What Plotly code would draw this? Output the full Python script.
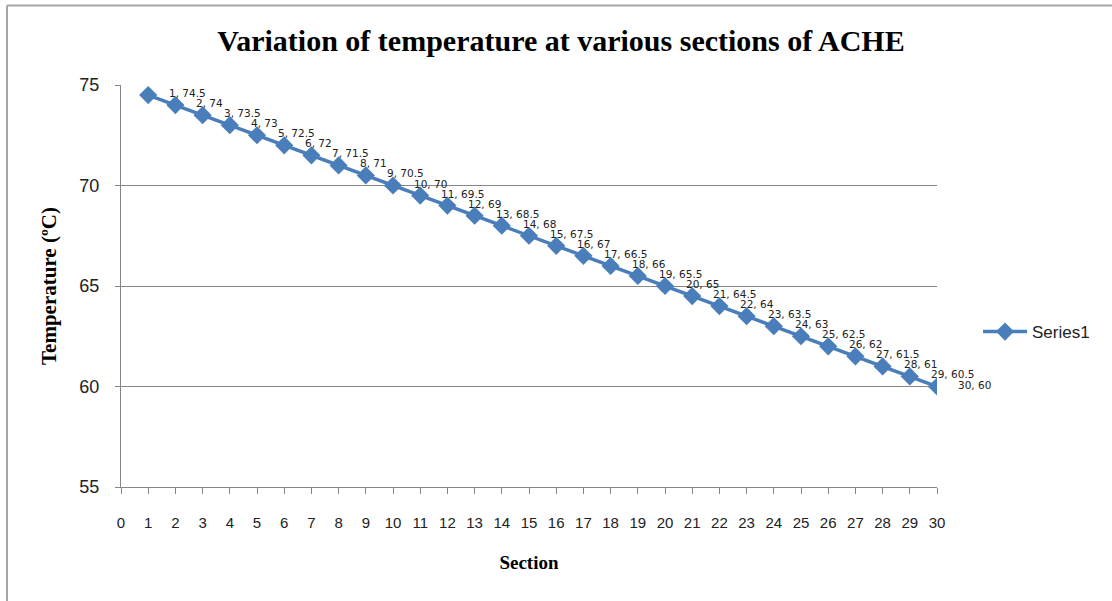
import plotly.graph_objects as go

sections = [1, 2, 3, 4, 5, 6, 7, 8, 9, 10, 11, 12, 13, 14, 15,
            16, 17, 18, 19, 20, 21, 22, 23, 24, 25, 26, 27, 28, 29, 30]
temperature = [74.5, 74, 73.5, 73, 72.5, 72, 71.5, 71, 70.5, 70,
               69.5, 69, 68.5, 68, 67.5, 67, 66.5, 66, 65.5, 65,
               64.5, 64, 63.5, 63, 62.5, 62, 61.5, 61, 60.5, 60]
x_ticks = list(range(0, 31))
y_ticks = [55, 60, 65, 70, 75]

W, H = 1112, 601
L, R, T, B = 121, 937, 85, 487

blue = "#4A7EBB"
grid = "#868686"

fig = go.Figure()
fig.add_trace(go.Scatter(
    x=sections, y=temperature, mode="lines+markers", name="Series1",
    line=dict(color=blue, width=3.5),
    marker=dict(symbol="diamond", size=14, color=blue),
))

annotations = []
for s, t in zip(sections, temperature):
    annotations.append(dict(
        x=s, y=t, xref="x", yref="y", text=f"{s}, {t:g}",
        showarrow=False, xanchor="left", yanchor="middle",
        xshift=19, yshift=2,
        font=dict(family="DejaVu Sans", size=10.5, color="#222222"),
    ))

pw, ph = R - L, B - T
def px2x(px):
    return (px - L) / pw
def py2y(py):
    return (B - py) / ph

shapes = [
    dict(type="line", xref="paper", yref="paper",
         x0=px2x(7), x1=px2x(7), y0=py2y(5.5), y1=py2y(700),
         line=dict(color="#A6A6A6", width=2)),
    dict(type="line", xref="paper", yref="paper",
         x0=px2x(7), x1=px2x(1200), y0=py2y(5.5), y1=py2y(5.5),
         line=dict(color="#A6A6A6", width=2)),
]

fig.update_layout(
    width=W, height=H,
    margin=dict(l=L, r=W - R, t=T, b=H - B, pad=0),
    paper_bgcolor="white", plot_bgcolor="white",
    title=dict(text="<b>Variation of temperature at various sections of ACHE</b>",
               x=561 / W, xanchor="center", y=1 - 40 / H, yanchor="middle",
               font=dict(family="Liberation Serif", size=30, color="black")),
    showlegend=True,
    legend=dict(x=px2x(978), y=py2y(332), xanchor="left", yanchor="middle",
                font=dict(family="Liberation Sans", size=17, color="#222222"),
                bgcolor="rgba(0,0,0,0)", itemwidth=44),
    xaxis=dict(range=[0, 30], tickmode="array", tickvals=x_ticks,
               ticktext=[str(v) for v in x_ticks],
               showgrid=False, zeroline=False,
               showline=True, linecolor=grid, linewidth=1,
               ticks="outside", ticklen=6, tickcolor=grid,
               ticklabelstandoff=16,
               tickfont=dict(family="Liberation Sans", size=15, color="#222222"),
               title=dict(text="<b>Section</b>", standoff=25,
                          font=dict(family="Liberation Serif", size=19, color="black"))),
    yaxis=dict(range=[55, 75], tickmode="array", tickvals=y_ticks,
               showgrid=True, gridcolor=grid, gridwidth=1, zeroline=False,
               showline=True, linecolor=grid, linewidth=1,
               ticks="outside", ticklen=5, tickcolor=grid,
               ticklabelstandoff=12,
               tickfont=dict(family="Liberation Sans", size=18, color="#222222"),
               title=dict(text="<b>Temperature (ºC)</b>", standoff=17,
                          font=dict(family="Liberation Serif", size=21, color="black"))),
    annotations=annotations,
    shapes=shapes,
)

fig.write_html("out.html")
